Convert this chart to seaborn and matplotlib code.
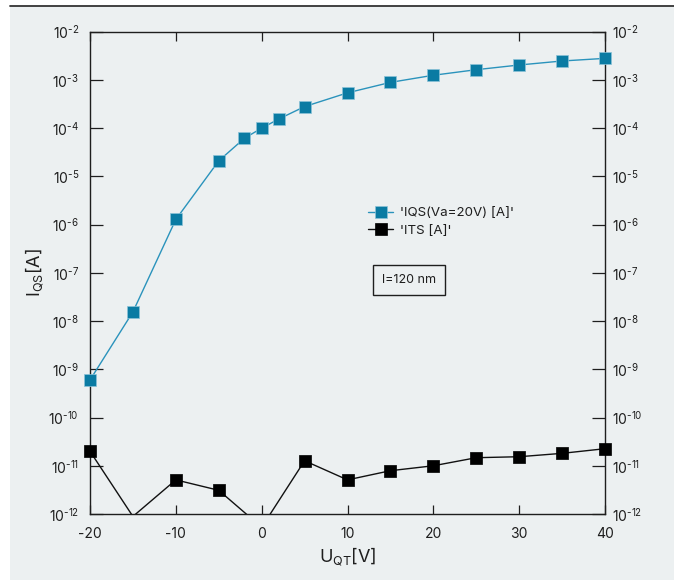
import matplotlib
matplotlib.use("Agg")
import matplotlib.pyplot as plt
from matplotlib.lines import Line2D
from matplotlib.patches import Rectangle
import pandas as pd
import seaborn as sns

# Gate voltage sweep and measured currents
u_qs = [-20, -15, -10, -5, -2, 0, 2, 5, 10, 15, 20, 25, 30, 35, 40]
i_qs = [6.0e-10, 1.55e-8, 1.28e-6, 2.1e-5, 6.2e-5, 1.0e-4, 1.55e-4, 2.8e-4,
        5.4e-4, 8.9e-4, 1.25e-3, 1.63e-3, 2.04e-3, 2.47e-3, 2.8e-3]
u_ts = [-20, -15, -10, -5, 0, 5, 10, 15, 20, 25, 30, 35, 40]
i_ts = [2.0e-11, 8.9e-13, 5.1e-12, 3.1e-12, 5.3e-13, 1.27e-11, 5.1e-12,
        7.9e-12, 1.0e-11, 1.47e-11, 1.54e-11, 1.81e-11, 2.26e-11]
series_names = ["'IQS(Va=20V) [A]'", "'ITS [A]'"]
x_ticks = [-20, -10, 0, 10, 20, 30, 40]
y_exponents = list(range(-12, -1))
annotation = "l=120 nm"
x_label = r"U$_{\mathrm{QT}}$[V]"
y_label = r"I$_{\mathrm{QS}}$[A]"

FONT = "Inter"
BG = "#ECF0F1"
INK = "#1E1E1E"
face_colors = {series_names[0]: "#0A7BA3", series_names[1]: "#000000"}
line_colors = {series_names[0]: "#2A93BC", series_names[1]: "#111111"}
edge_colors = {series_names[0]: "#8CC3D8", series_names[1]: "#000000"}

sns.set_theme(style="ticks")
plt.rcParams.update({
    "font.family": [FONT, "DejaVu Sans"],
    "mathtext.fontset": "custom",
    "mathtext.rm": FONT,
    "mathtext.it": FONT + ":italic",
    "mathtext.bf": FONT + ":bold",
    "mathtext.default": "regular",
    "text.color": INK,
    "axes.labelcolor": INK,
    "xtick.color": INK,
    "ytick.color": INK,
})

df = pd.concat([
    pd.DataFrame({"U": u_qs, "I": i_qs, "series": series_names[0]}),
    pd.DataFrame({"U": u_ts, "I": i_ts, "series": series_names[1]}),
], ignore_index=True)

W, H = 674, 580
fig = plt.figure(figsize=(W / 100, H / 100), dpi=100)
fig.patch.set_facecolor("white")
fig.add_artist(Rectangle((10 / W, 0), 1 - 10 / W, (H - 6) / H,
                         transform=fig.transFigure, facecolor=BG,
                         edgecolor="none", zorder=0))
fig.add_artist(Line2D([10 / W, 1], [1 - 5.5 / H] * 2, transform=fig.transFigure,
                      color="#333333", lw=1.3, zorder=1))

ax = fig.add_axes([90 / W, (H - 514) / H, (605 - 90) / W, (514 - 31.7) / H])
ax.set_facecolor(BG)

ymin, ymax = 10.0 ** y_exponents[0], 10.0 ** y_exponents[-1]

# connecting lines use every point; they are clipped at the axes frame
sns.lineplot(data=df, x="U", y="I", hue="series", palette=line_colors,
             estimator=None, sort=False, linewidth=1.0, legend=False, ax=ax,
             zorder=3)

# square markers for the points inside the plotted range
for name in series_names:
    sub = df[(df["series"] == name) & (df["I"] >= ymin)]
    sns.scatterplot(data=sub, x="U", y="I", marker="s", s=74,
                    color=face_colors[name], edgecolor=edge_colors[name],
                    linewidth=0.5, legend=False, ax=ax, zorder=6, clip_on=False)

ax.set_yscale("log")
ax.set_xlim(x_ticks[0], x_ticks[-1])
ax.set_ylim(ymin, ymax)
ax.set_xticks(x_ticks)
ax.set_xticklabels([str(t) for t in x_ticks])
ax.set_yticks([10.0 ** e for e in y_exponents])
ytl = [r"$10^{\text{%d}}$" % e for e in y_exponents]
ax.set_yticklabels(ytl)
ax.minorticks_off()

for s in ax.spines.values():
    s.set_visible(True)
    s.set_color(INK)
    s.set_linewidth(1.0)

TICK_FS = 10
ax.tick_params(axis="x", which="major", direction="in", length=6.5, width=0.9,
               top=True, bottom=True, labelsize=TICK_FS, pad=9)
ax.tick_params(axis="y", which="major", direction="in", length=9.2, width=0.9,
               left=True, right=True, labelleft=True, labelright=False,
               labelsize=TICK_FS, pad=8)

sec = ax.secondary_yaxis("right")
sec.set_yticks([10.0 ** e for e in y_exponents])
sec.set_yticklabels(ytl)
sec.minorticks_off()
sec.tick_params(axis="y", direction="in", length=0, labelsize=TICK_FS, pad=5)
sec.spines["right"].set_visible(False)

ax.set_xlabel(x_label, fontsize=13)
ax.xaxis.set_label_coords(0.5, (514 - 546) / (514 - 31.7))
ax.set_ylabel(y_label, fontsize=13)
ax.yaxis.set_label_coords((46 - 90) / (605 - 90), 0.5)

handles = [Line2D([], [], color=line_colors[n], lw=1.0, marker="s", markersize=8.4,
                  markerfacecolor=face_colors[n], markeredgecolor=edge_colors[n],
                  markeredgewidth=0.5) for n in series_names]
fig.legend(handles, series_names, loc="upper left",
           bbox_to_anchor=(368 / W, 1 - 207 / H), frameon=False, fontsize=9.6,
           handlelength=1.9, handletextpad=0.5, borderpad=0, borderaxespad=0,
           labelspacing=0.38)

fig.text(409 / W, 1 - 280 / H, annotation, ha="center", va="center", fontsize=9,
         bbox=dict(boxstyle="square,pad=0.72", facecolor="none", edgecolor=INK,
                   linewidth=1.0))

fig.savefig("out.png", dpi=100, facecolor=fig.get_facecolor())
